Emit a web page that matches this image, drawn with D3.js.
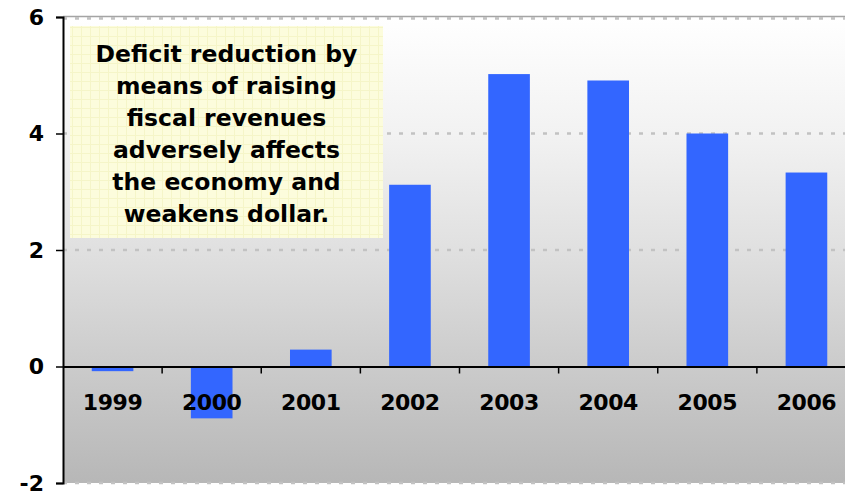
<!DOCTYPE html>
<html>
<head>
<meta charset="utf-8">
<script src="https://cdn.jsdelivr.net/npm/d3@7/dist/d3.min.js"></script>
<style>
  html, body { margin: 0; padding: 0; background: #ffffff; }
  svg { display: block; }
  text { font-family: "DejaVu Sans", Verdana, sans-serif; font-weight: bold; fill: #000; }
</style>
</head>
<body>
<svg id="chart" width="845" height="491"></svg>
<script>
// Yearly values
const years = ["1999", "2000", "2001", "2002", "2003", "2004", "2005", "2006"];
const values = [-0.08, -0.89, 0.29, 3.12, 5.02, 4.91, 4.0, 3.33];
const yTicks = [-2, 0, 2, 4, 6];
const noteLines = [
  "Deficit reduction by",
  "means of raising",
  "fiscal revenues",
  "adversely affects",
  "the economy and",
  "weakens dollar."
];

const svg = d3.select("#chart");
const plotLeft = 63, plotRight = 856, plotTop = 17, plotBottom = 483;

const x = d3.scaleBand().domain(years).range([plotLeft, plotRight]).padding(0);
const y = d3.scaleLinear().domain([-2, 6]).range([plotBottom, plotTop]);
const barW = x.step() * 0.42;

// Plot background: white at the top fading to grey at the bottom
const defs = svg.append("defs");
const grad = defs.append("linearGradient")
  .attr("id", "bg").attr("x1", 0).attr("y1", 0).attr("x2", 0).attr("y2", 1);
[[0, "#ffffff"], [0.25, "#f2f2f2"], [0.5, "#e0e0e0"], [0.75, "#cbcbcb"], [1, "#b7b7b7"]]
  .forEach(([o, c]) => grad.append("stop").attr("offset", o).attr("stop-color", c));

// Faint squared-paper pattern for the note box
const pat = defs.append("pattern")
  .attr("id", "paper").attr("patternUnits", "userSpaceOnUse")
  .attr("width", 9).attr("height", 9);
pat.append("rect").attr("width", 9).attr("height", 9).attr("fill", "#fcfcdc");
pat.append("path").attr("d", "M0,0.5H9M0.5,0V9")
  .attr("stroke", "#f5f5c8").attr("stroke-width", 1);

svg.append("rect")
  .attr("x", plotLeft).attr("y", plotTop)
  .attr("width", plotRight - plotLeft).attr("height", plotBottom - plotTop)
  .attr("fill", "url(#bg)");

// Dashed gridlines
svg.append("g").selectAll("line")
  .data(yTicks.filter(t => t !== 0))
  .join("line")
  .attr("x1", plotLeft).attr("x2", plotRight)
  .attr("y1", d => y(d) + (d === 6 ? 1.5 : 0)).attr("y2", d => y(d) + (d === 6 ? 1.5 : 0))
  .attr("stroke", "#c2c2c2").attr("stroke-width", 2.5)
  .attr("stroke-dasharray", "4,8");

// Top border of the plot
svg.append("line")
  .attr("x1", plotLeft).attr("x2", plotRight)
  .attr("y1", plotTop - 0.5).attr("y2", plotTop - 0.5)
  .attr("stroke", "#a4a4a4").attr("stroke-width", 1.5);

// Note box
const boxX = 70, boxY = 26, boxW = 313, boxH = 212;
svg.append("rect")
  .attr("x", boxX).attr("y", boxY).attr("width", boxW).attr("height", boxH)
  .attr("fill", "url(#paper)");
svg.append("g").selectAll("text")
  .data(noteLines)
  .join("text")
  .attr("x", boxX + boxW / 2)
  .attr("y", (d, i) => 62 + i * 32)
  .attr("text-anchor", "middle")
  .attr("font-size", 23.5)
  .text(d => d);

// Bars
svg.append("g").selectAll("rect")
  .data(values)
  .join("rect")
  .attr("x", (d, i) => x(years[i]) + (x.step() - barW) / 2)
  .attr("y", d => Math.min(y(d), y(0)))
  .attr("width", barW)
  .attr("height", d => Math.abs(y(d) - y(0)))
  .attr("fill", "#3366ff");

// Y axis
const yAxis = svg.append("g")
  .attr("transform", `translate(${plotLeft},0)`)
  .call(d3.axisLeft(y).tickValues(yTicks).tickSize(7).tickPadding(12).tickFormat(d => String(d)));
yAxis.select(".domain").attr("stroke", "#000").attr("stroke-width", 2);
yAxis.selectAll(".tick line").attr("stroke", "#000").attr("stroke-width", 1.5);
yAxis.selectAll(".tick text")
  .attr("font-size", 22)
  .attr("dy", "0.34em")
  .attr("font-family", "DejaVu Sans, Verdana, sans-serif")
  .attr("font-weight", "bold")
  .attr("fill", "#000");

// Category axis on the zero line
const xAxis = svg.append("g")
  .attr("transform", `translate(0,${y(0)})`)
  .call(d3.axisBottom(x).tickSize(0).tickPadding(28));
xAxis.select(".domain").attr("stroke", "#000").attr("stroke-width", 2);
xAxis.selectAll(".tick text")
  .attr("font-size", 22)
  .attr("font-family", "DejaVu Sans, Verdana, sans-serif")
  .attr("font-weight", "bold")
  .attr("letter-spacing", "-0.4px")
  .attr("fill", "#000");

// Category boundary ticks below the zero line
svg.append("g").selectAll("line")
  .data(years.slice(1))
  .join("line")
  .attr("x1", d => x(d)).attr("x2", d => x(d))
  .attr("y1", y(0)).attr("y2", y(0) + 7)
  .attr("stroke", "#000").attr("stroke-width", 1.5);
</script>
</body>
</html>
